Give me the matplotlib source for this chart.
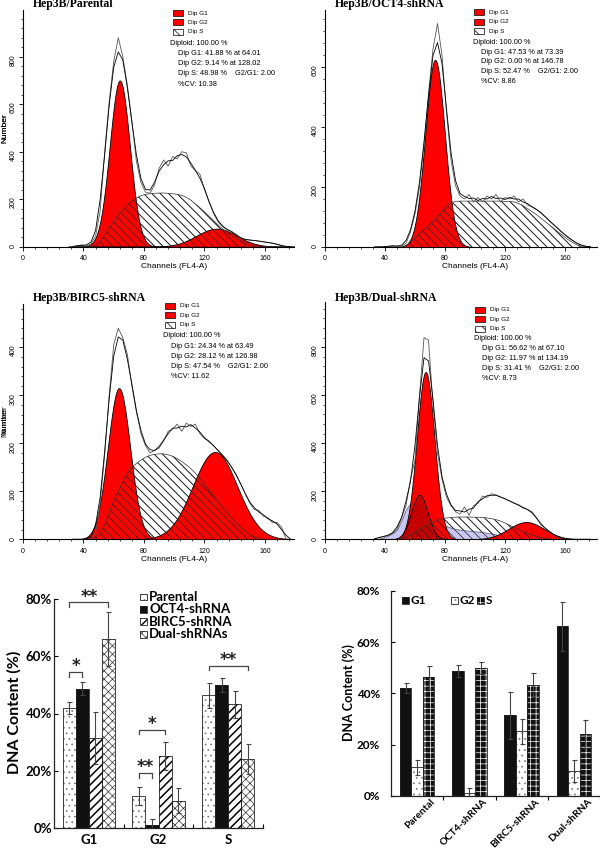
import numpy as np
import matplotlib
matplotlib.use("Agg")
import matplotlib.pyplot as plt
from matplotlib.patches import Rectangle
from matplotlib.ticker import MultipleLocator
import matplotlib.transforms as mtransforms

plt.rcParams['font.family'] = ['Liberation Sans', 'DejaVu Sans']
plt.rcParams['hatch.linewidth'] = 0.5
plt.rcParams['hatch.color'] = 'black'

W, H = 600, 852

# ---------------------------------------------------------------- data
channels = list(range(33, 178, 3))

parental_counts = [0, 4, 8, 3, 12, 45, 150, 400, 610, 780, 880, 800, 680, 530, 360, 270, 230, 225, 260, 330,
                   365, 340, 380, 370, 400, 395, 340, 320, 305, 240, 190, 140, 105, 85, 70, 65, 50, 35, 30, 28,
                   26, 24, 20, 18, 15, 10, 5, 0, 0]
oct4_counts = [0, 0, 0, 2, 5, 2, 3, 12, 50, 110, 200, 340, 510, 660, 745, 640, 450, 290, 205, 170,
               160, 175, 150, 165, 150, 170, 160, 175, 150, 165, 160, 170, 150, 160, 140, 135, 125, 115, 100, 85,
               72, 58, 45, 32, 22, 12, 5, 2, 0]
birc5_counts = [0, 0, 0, 0, 3, 12, 75, 175, 300, 405, 440, 420, 385, 320, 265, 220, 195, 180, 185, 190,
                205, 225, 230, 240, 225, 242, 235, 240, 220, 210, 205, 195, 185, 175, 165, 150, 135, 115, 95, 75,
                62, 60, 48, 45, 35, 35, 25, 0, 0]
dual_counts = [0, 8, 12, 15, 25, 42, 88, 140, 250, 330, 600, 840, 830, 560, 360, 250, 175, 140, 115, 105,
               135, 100, 140, 150, 180, 175, 190, 185, 175, 170, 160, 150, 145, 130, 125, 115, 90, 60, 45, 30,
               18, 8, 3, 0, 0, 0, 0, 0, 0]

parental_s = [0, 0, 0, 0, 0, 5, 20, 50, 80, 105, 135, 155, 175, 192, 205, 215, 220, 223, 225, 226,
              226, 225, 223, 220, 216, 208, 196, 180, 164, 147, 128, 110, 92, 75, 60, 47, 35, 25, 16, 9,
              4, 1, 0, 0, 0, 0, 0, 0, 0]
oct4_s = [0, 0, 0, 0, 0, 0, 0, 5, 15, 30, 45, 58, 70, 85, 100, 118, 135, 147, 152, 153,
          153, 153, 153, 153, 153, 153, 153, 153, 153, 152, 152, 150, 145, 138, 128, 118, 108, 96, 84, 72,
          60, 48, 36, 25, 15, 7, 2, 0, 0]
birc5_s = [0, 0, 0, 0, 0, 5, 12, 30, 55, 80, 100, 120, 138, 150, 158, 165, 171, 175, 177, 178,
           178, 176, 173, 168, 162, 155, 147, 138, 127, 115, 102, 90, 78, 66, 55, 44, 34, 25, 17, 10,
           5, 2, 0, 0, 0, 0, 0, 0, 0]
dual_s = [0, 0, 0, 0, 0, 0, 5, 10, 18, 28, 40, 52, 63, 72, 80, 85, 89, 91, 92, 93,
          93, 93, 92, 92, 91, 89, 86, 82, 76, 68, 59, 50, 41, 33, 25, 18, 12, 7, 4, 1,
          0, 0, 0, 0, 0, 0, 0, 0, 0]
dual_debris = [0, 2, 8, 15, 25, 40, 80, 125, 150, 160, 155, 140, 120, 100, 80, 65, 55, 48, 43, 40,
               38, 36, 34, 32, 30, 27, 24, 20, 16, 12, 8, 4, 1, 0, 0, 0, 0, 0, 0, 0,
               0, 0, 0, 0, 0, 0, 0, 0, 0]

# ModFit statistics: [G1 %, G1 channel, G2 %, G2 channel, S %, CV %]
parental_stats = [41.88, 64.01, 9.14, 128.02, 48.98, 10.38]
oct4_stats = [47.53, 73.39, 0.00, 146.78, 52.47, 8.86]
birc5_stats = [24.34, 63.49, 28.12, 126.98, 47.54, 11.62]
dual_stats = [56.62, 67.10, 11.97, 134.19, 31.41, 8.73]

# fitted peak heights [G1, G2]
parental_peaks = [700, 76]
oct4_peaks = [624, 0]
birc5_peaks = [315, 182]
dual_peaks = [697, 72]
dual_second_peak = [185, 63.0]   # height, channel

hist_titles = ["Hep3B/Parental", "Hep3B/OCT4-shRNA", "Hep3B/BIRC5-shRNA", "Hep3B/Dual-shRNA"]

# bar charts
phase_names = ["G1", "G2", "S"]
series_names = ["Parental", "OCT4-shRNA", "BIRC5-shRNA", "Dual-shRNAs"]
cell_lines = ["Parental", "OCT4-shRNA", "BIRC5-shRNA", "Dual-shRNA"]
parental_pct = [42.0, 11.2, 46.3]
parental_err = [2.0, 3.0, 4.5]
oct4_pct = [48.7, 1.2, 49.9]
oct4_err = [2.3, 1.9, 2.4]
birc5_pct = [31.4, 25.2, 43.2]
birc5_err = [9.2, 4.9, 4.6]
dual_pct = [66.1, 9.6, 24.1]
dual_err = [9.5, 4.3, 5.4]
y_ticks_pct = [0, 20, 40, 60, 80]

# significance: (phase index, series a, series b, bracket level %, label)
sig_phase = [0, 0, 1, 1, 2]
sig_a = [0, 0, 0, 0, 0]
sig_b = [1, 3, 1, 2, 3]
sig_level = [54.5, 78.8, 19.2, 34.3, 56.7]
sig_label = ["*", "**", "**", "*", "**"]

# ---------------------------------------------------------------- figure
fig = plt.figure(figsize=(6, 8.52), dpi=100)


def px_axes(left, top, right, bottom):
    return fig.add_axes([left / W, 1 - bottom / H, (right - left) / W, (bottom - top) / H])


def ftext(x, y, s, **kw):
    return fig.text(x / W, 1 - y / H, s, **kw)


def frect(x, y, w, h, **kw):
    r = Rectangle((x / W, 1 - (y + h) / H), w / W, h / H, transform=fig.transFigure, **kw)
    fig.add_artist(r)
    return r


HATCH_S = '\\\\\\\\'


def hist_panel(box, xmax, ymax, ylabels_max, ymajor, yminor, counts, s_vals, peaks, stats, title,
               title_xy, legend_xy, stats_xy, stats_dy, debris=None, second=None):
    left, top, right, bottom = box
    ax = px_axes(left, top, right, bottom)
    ax.set_xlim(0, xmax)
    ax.set_ylim(0, ymax)
    ch = np.asarray(channels, float)
    fine = np.linspace(30, 180, 751)
    g1p, g1c, g2p, g2c, sp, cv = stats
    g1 = peaks[0] * np.exp(-0.5 * ((fine - g1c) / (g1c * cv / 100)) ** 2)
    g2 = peaks[1] * np.exp(-0.5 * ((fine - g2c) / (g2c * cv / 100)) ** 2)
    s = np.asarray(s_vals, float)
    ax.fill_between(ch, 0, s, facecolor='white', edgecolor='#222222', hatch=HATCH_S, linewidth=0, zorder=1)
    if debris is not None:
        ax.fill_between(ch, 0, debris, facecolor='#c8c8f2', edgecolor='#555577', linewidth=0.5, zorder=2)
    ax.fill_between(fine, 0, g1, facecolor='#ff0000', edgecolor='black', linewidth=0.6, zorder=3)
    if second is not None:
        h2, c2 = second
        an = h2 * np.exp(-0.5 * ((fine - c2) / (c2 * cv / 100)) ** 2)
        ax.fill_between(fine, 0, an, facecolor='#c40000', edgecolor='black', linewidth=0.6, zorder=3.5)
    if peaks[1] > 0:
        ax.fill_between(fine, 0, g2, facecolor='#ff0000', edgecolor='black', linewidth=0.6, zorder=3)
    ax.fill_between(ch, 0, s, facecolor='none', edgecolor='#222222', hatch=HATCH_S, linewidth=0, zorder=4)
    ax.plot(ch, s, color='#333333', lw=0.5, zorder=4.5)
    cnt = np.asarray(counts, float)
    smooth = np.convolve(cnt, np.ones(3) / 3, mode='same')
    ax.plot(ch, cnt, color='#555555', lw=0.6, zorder=5)
    ax.plot(ch, smooth, color='black', lw=0.6, zorder=5)

    for k in ['top', 'right']:
        ax.spines[k].set_visible(False)
    for k in ['left', 'bottom']:
        ax.spines[k].set_linewidth(0.8)
    ax.set_xticks([0, 40, 80, 120, 160])
    ax.xaxis.set_minor_locator(MultipleLocator(8))
    ax.set_yticks(list(range(0, ylabels_max + 1, ymajor)))
    ax.yaxis.set_minor_locator(MultipleLocator(yminor))
    ax.tick_params(which='major', length=3, width=0.6, labelsize=5, direction='out')
    ax.tick_params(which='minor', length=1.6, width=0.5, direction='out')
    ax.tick_params(axis='y', labelrotation=90, pad=1.5)
    ax.tick_params(axis='x', pad=3.0)

    # labels
    ftext(4.5, (top + bottom) / 2, "Number", rotation=90, fontsize=6, ha='center', va='center')
    xl = left + 100 / xmax * (right - left)
    ftext(xl, bottom + 20, "Channels (FL4-A)", fontsize=6, ha='center', va='center')
    ftext(title_xy[0], title_xy[1], title, fontsize=8.5, fontweight='bold', family='Liberation Serif',
          ha='left', va='baseline')

    # legend
    lx, ly = legend_xy
    names = ["Dip G1", "Dip G2", "Dip S"]
    for i, nm in enumerate(names):
        yc = ly + i * 9.4
        if i < 2:
            frect(lx, yc - 3, 10, 6, facecolor='#ff0000', edgecolor='black', linewidth=0.5)
        else:
            frect(lx, yc - 3, 10, 6, facecolor='white', edgecolor='black', linewidth=0.5, hatch='\\\\\\')
        ftext(lx + 15, yc, nm, fontsize=4.6, ha='left', va='center')

    sx, sy = stats_xy
    lines = ["Diploid: 100.00 %",
             "Dip G1: %.2f %% at %.2f" % (g1p, g1c),
             "Dip G2: %.2f %% at %.2f" % (g2p, g2c),
             "Dip S: %.2f %%    G2/G1: %.2f" % (sp, g2c / g1c),
             "%%CV: %.2f" % cv]
    for i, ln in enumerate(lines):
        ftext(sx + (0 if i == 0 else 7.5), sy + i * stats_dy, ln, fontsize=5.3, ha='left', va='center')
    return ax


hist_panel((23, 10.4, 293.7, 246.7), 179, 995, 800, 200, 40, parental_counts, parental_s,
           parental_peaks, parental_stats, hist_titles[0], (33, 7.5), (173, 13), (170, 43.3), 10.2)
hist_panel((325, 10, 596.5, 247), 181, 790, 600, 200, 40, oct4_counts, oct4_s,
           oct4_peaks, oct4_stats, hist_titles[1], (335, 7.5), (474, 12.3), (473.3, 42.3), 9.7)
hist_panel((23, 304.1, 293.7, 539.3), 179, 490, 400, 100, 20, birc5_counts, birc5_s,
           birc5_peaks, birc5_stats, hist_titles[2], (33, 301), (165, 306), (163.3, 336), 10.1)
hist_panel((325, 301.7, 596.5, 539.3), 181, 990, 800, 200, 40, dual_counts, dual_s,
           dual_peaks, dual_stats, hist_titles[3], (335, 301), (475, 310), (474.3, 339), 9.8,
           debris=dual_debris, second=dual_second_peak)

# ---------------------------------------------------------------- bar charts
STYLES = {
    'dots': ('white', '...', '#777777'),
    'black': ('#111111', None, '#111111'),
    'diag': ('white', '////', 'black'),
    'cross': ('white', 'xxxx', '#333333'),
    'checker': ('#111111', '+++', 'white'),
}


def styled_bars(ax, x, h, width, style, z=2):
    face, hatch, hc = STYLES[style]
    bars = ax.bar(x, h, width, color=face, edgecolor=hc, hatch=hatch, linewidth=0, zorder=z)
    if style == 'diag':
        for b in bars:
            if hasattr(b, 'set_hatch_linewidth'):
                b.set_hatch_linewidth(1.1)
    ax.bar(x, h, width, fill=False, edgecolor='#222222', linewidth=0.6, zorder=z + 0.1)


def styled_square(x, y, s, style):
    face, hatch, hc = STYLES[style]
    r = frect(x, y, s, s, facecolor=face, edgecolor=hc, hatch=hatch, linewidth=0)
    if style == 'diag' and hasattr(r, 'set_hatch_linewidth'):
        r.set_hatch_linewidth(1.0)
    frect(x, y, s, s, fill=False, edgecolor='#222222', linewidth=0.6)


BFONT = 'Lato'
left_series = [parental_pct, oct4_pct, birc5_pct, dual_pct]
left_errs = [parental_err, oct4_err, birc5_err, dual_err]
left_styles = ['dots', 'black', 'diag', 'cross']

axl = px_axes(54, 599, 263, 828)
axl.set_xlim(-0.5, 2.5)
axl.set_ylim(0, 80)
bw = 0.1875
xpos = np.arange(len(phase_names))
for i in range(4):
    xs = xpos + (i - 1.5) * bw
    styled_bars(axl, xs, left_series[i], bw, left_styles[i])
    axl.errorbar(xs, left_series[i], yerr=left_errs[i], fmt='none', ecolor='#444444',
                 elinewidth=0.8, capsize=1.8, capthick=0.8, zorder=5)

for k in ['top', 'right']:
    axl.spines[k].set_visible(False)
for k in ['left', 'bottom']:
    axl.spines[k].set_linewidth(0.9)
    axl.spines[k].set_color('#222222')
axl.set_yticks(y_ticks_pct)
axl.set_yticklabels(["%d%%" % v for v in y_ticks_pct], fontsize=9.5, fontweight='bold', family=BFONT)
axl.tick_params(axis='y', direction='in', length=3, width=0.8, pad=1.5)
axl.set_xticks(xpos)
axl.set_xticklabels(phase_names, fontsize=9.5, fontweight='bold', family=BFONT)
axl.tick_params(axis='x', which='major', length=0, pad=4)
axl.set_xticks([0.5, 1.5, 2.5], minor=True)
axl.tick_params(axis='x', which='minor', direction='in', length=3, width=0.8)
ftext(14, 712, "DNA Content (%)", rotation=90, fontsize=11.5, fontweight='bold', family=BFONT,
      ha='center', va='center')

for ph, a, b, lev, lab in zip(sig_phase, sig_a, sig_b, sig_level, sig_label):
    xa = ph + (a - 1.5) * bw
    xb = ph + (b - 1.5) * bw
    axl.plot([xa, xa, xb, xb], [lev - 1.6, lev, lev, lev - 1.6], color='#444444', lw=0.9,
             clip_on=False, zorder=6)
    axl.text((xa + xb) / 2, lev + 0.3, lab, fontsize=12, fontweight='bold', family='DejaVu Sans',
             ha='center', va='baseline', color='#222222', clip_on=False)

for i, nm in enumerate(series_names):
    yc = 597 + i * 12.4
    styled_square(140, yc - 3.4, 6.8, left_styles[i])
    ftext(149, yc, nm, fontsize=9.5, fontweight='bold', family=BFONT, ha='left', va='center')

# right chart
axr = px_axes(391, 590.7, 600, 796)
axr.set_xlim(-0.5, 3.5)
axr.set_ylim(0, 80)
rw = 0.22
cx = np.arange(len(cell_lines))
right_styles = ['black', 'dots', 'checker']
for j in range(3):
    vals = [ser[j] for ser in left_series]
    errs = [er[j] for er in left_errs]
    xs = cx + (j - 1) * rw
    styled_bars(axr, xs, vals, rw, right_styles[j])
    axr.errorbar(xs, vals, yerr=errs, fmt='none', ecolor='#444444',
                 elinewidth=0.8, capsize=1.8, capthick=0.8, zorder=5)

for k in ['top', 'right']:
    axr.spines[k].set_visible(False)
for k in ['left', 'bottom']:
    axr.spines[k].set_linewidth(0.9)
    axr.spines[k].set_color('#222222')
axr.set_yticks(y_ticks_pct)
axr.set_yticklabels(["%d%%" % v for v in y_ticks_pct], fontsize=8.5, fontweight='bold', family=BFONT)
axr.tick_params(axis='y', direction='in', length=3, width=0.8, pad=8)
axr.set_xticks(cx)
axr.set_xticklabels(cell_lines, rotation=45, ha='right', rotation_mode='anchor',
                    fontsize=7.3, fontweight='bold', family=BFONT)
axr.tick_params(axis='x', which='major', length=0, pad=1)
offset = mtransforms.ScaledTranslation(13 / 100, 0, fig.dpi_scale_trans)
for lab in axr.get_xticklabels():
    lab.set_transform(lab.get_transform() + offset)
axr.set_xticks([0.5, 1.5, 2.5, 3.5], minor=True)
axr.tick_params(axis='x', which='minor', direction='out', length=3, width=0.8)
ftext(349, 693, "DNA Content (%)", rotation=90, fontsize=9, fontweight='bold', family=BFONT,
      ha='center', va='center')

leg_x = [401.5, 450.5, 476.5]
for j, nm in enumerate(phase_names):
    styled_square(leg_x[j], 600 - 3.5, 7, right_styles[j])
    ftext(leg_x[j] + 9, 600, nm, fontsize=8.5, fontweight='bold', family=BFONT, ha='left', va='center')

fig.savefig("out.png", dpi=100)
